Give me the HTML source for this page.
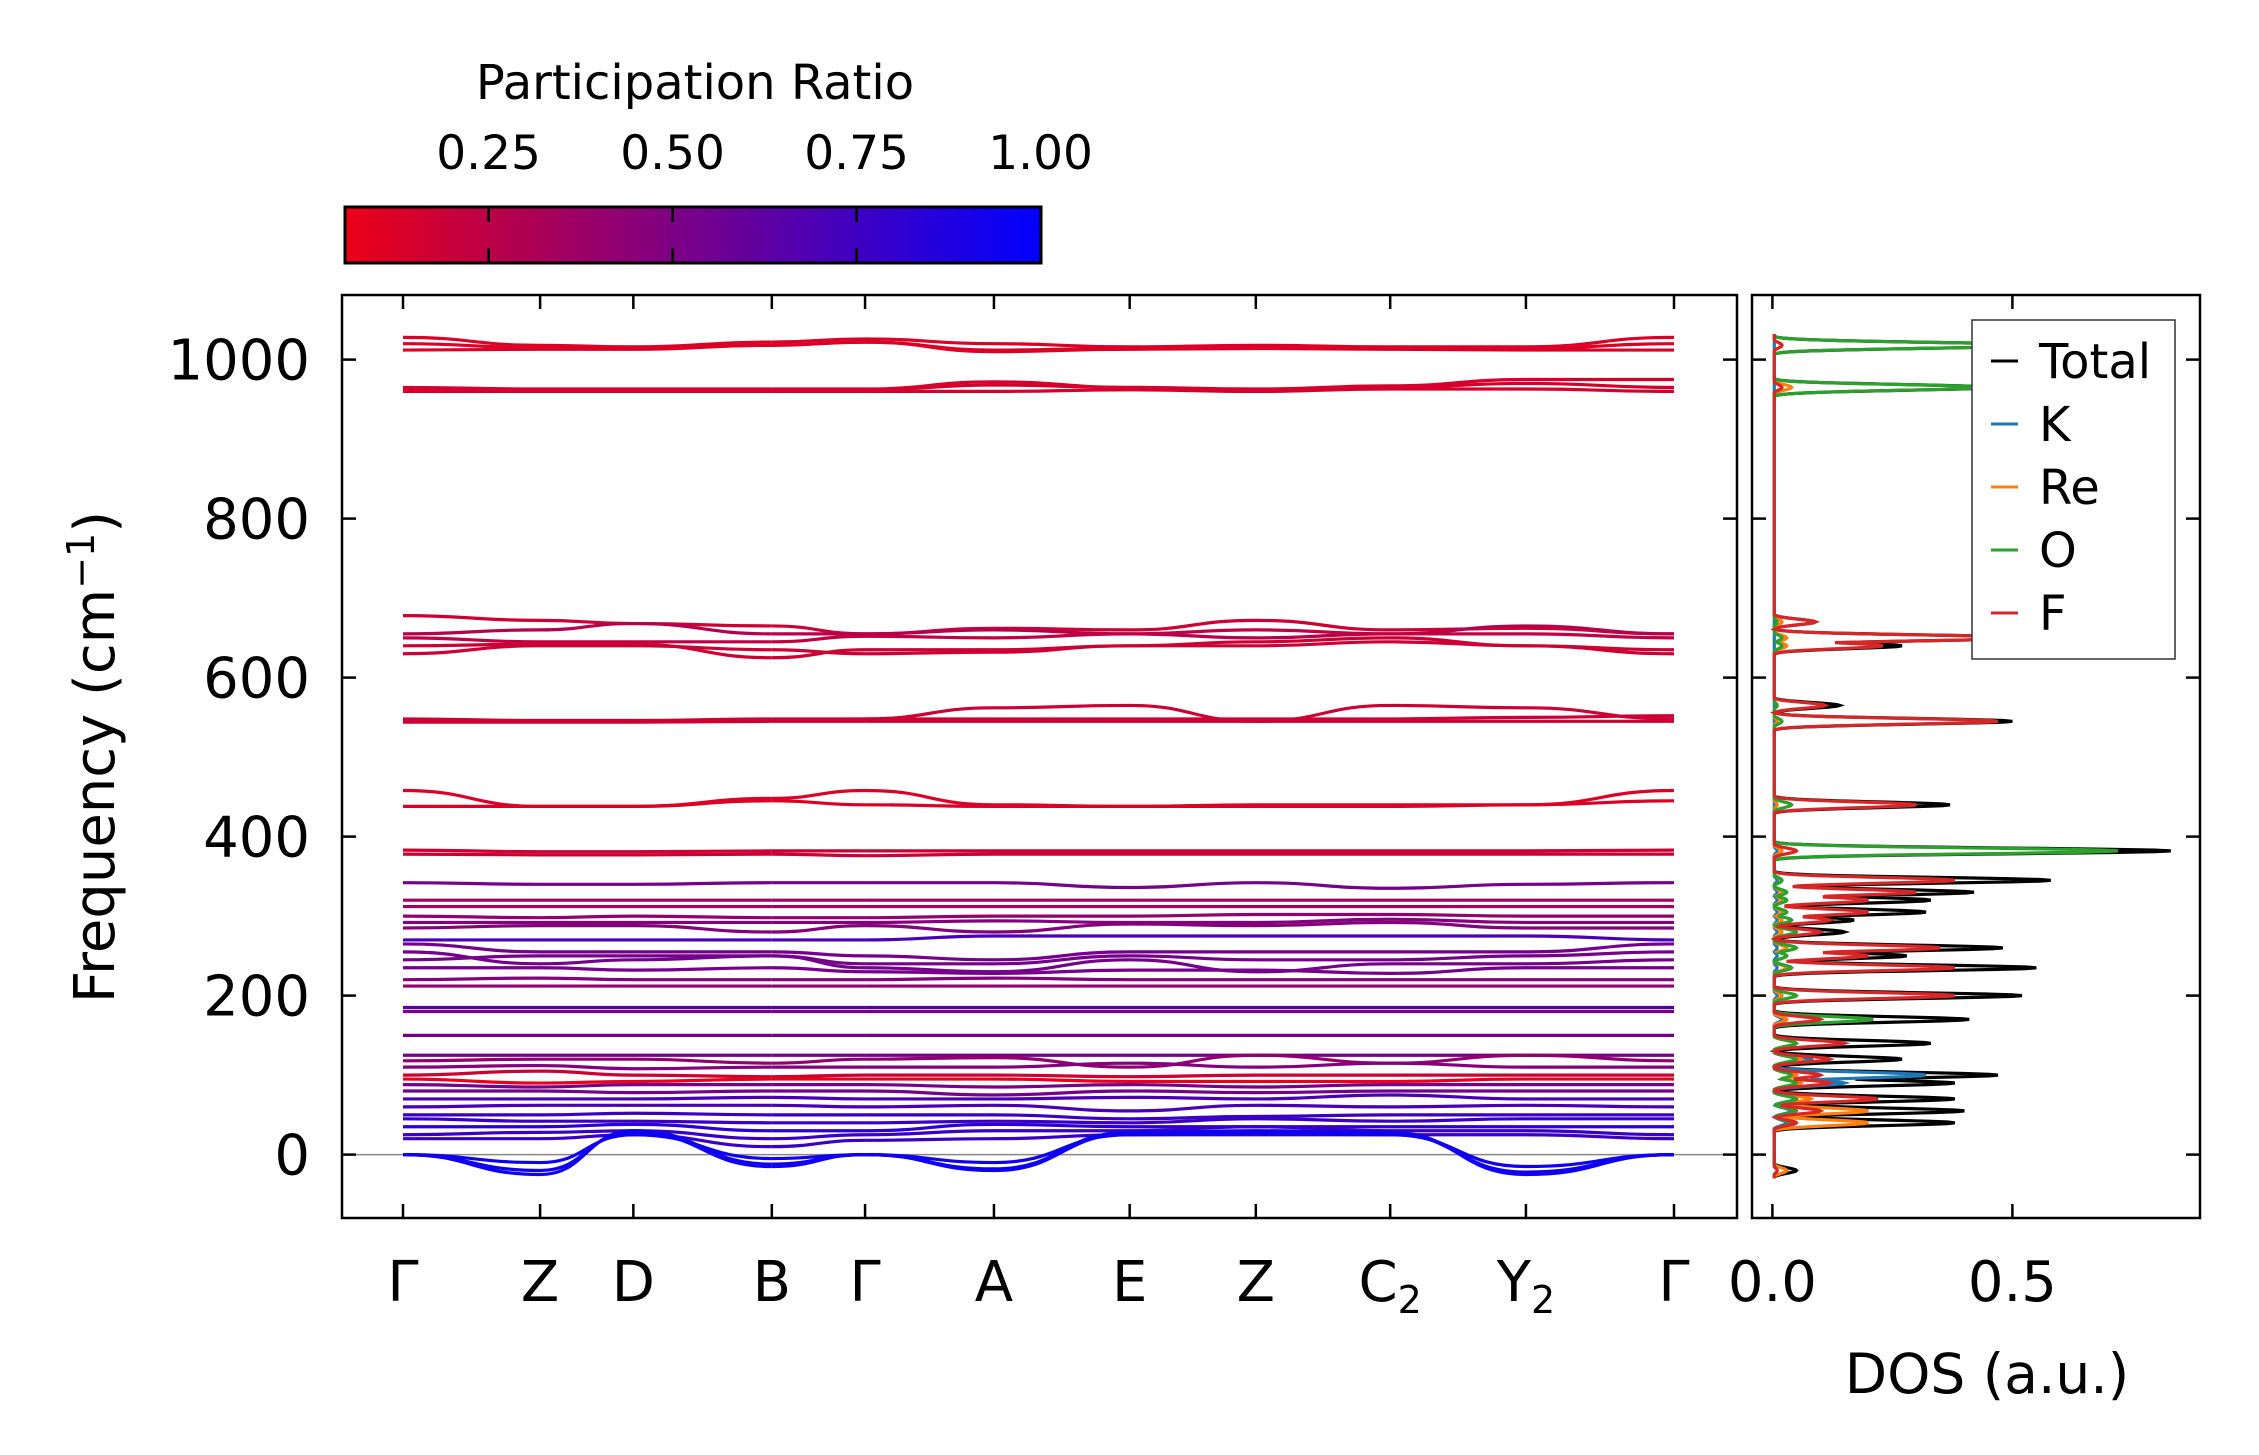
<!DOCTYPE html>
<html><head><meta charset="utf-8">
<style>
html,body{margin:0;padding:0;background:#fff;}
svg{display:block;font-family:"DejaVu Sans","Liberation Sans",sans-serif;}
</style></head>
<body>
<svg id="fig" width="2259" height="1455" viewBox="0 0 2259 1455" xmlns="http://www.w3.org/2000/svg">
<defs>
<linearGradient id="cmap" x1="0" x2="1" y1="0" y2="0">
<stop offset="0" stop-color="rgb(236,0,22)"/>
<stop offset="1" stop-color="rgb(0,0,255)"/>
</linearGradient>
<clipPath id="mainclip"><rect x="342" y="295" width="1395" height="923"/></clipPath>
<clipPath id="dosclip"><rect x="1752" y="295" width="448" height="923"/></clipPath>
</defs>
<g id="colorbar">
<text x="695" y="99" font-size="48" text-anchor="middle">Participation Ratio</text>
<rect x="345" y="207" width="696" height="56" fill="url(#cmap)" stroke="#000" stroke-width="3"/>
</g>
<g id="bands" clip-path="url(#mainclip)"></g>
<g id="dos" clip-path="url(#dosclip)"></g>
<g id="axes"></g>
<text transform="translate(114,757) rotate(-90)" font-size="56" text-anchor="middle">Frequency (cm<tspan font-size="38" dy="-20">−1</tspan><tspan dy="20">)</tspan></text>
<text x="1987" y="1393" font-size="55" text-anchor="middle">DOS (a.u.)</text>
<g id="legend">
<rect x="1972" y="320" width="203" height="339" fill="#fff" stroke="#333" stroke-width="1.5"/>
</g>
</svg>
<script>
const kLabels = ["Γ","Z","D","B","Γ","A","E","Z","C2","Y2","Γ"];
const kPos = [0,1,1.68,2.69,3.37,4.31,5.30,6.22,7.20,8.19,9.27];
const yTicks = [0,200,400,600,800,1000];
const cbTicks = [0.25,0.50,0.75,1.00];
const dosTicks = [0.0,0.5];
const bandFreqs = [
[1028,1018,1016,1022,1026,1020,1016,1018,1016,1016,1028],
[1020,1015,1014,1018,1022,1012,1014,1016,1014,1014,1020],
[1012,1013,1013,1018,1022,1010,1013,1014,1013,1012,1012],
[965,963,963,963,963,972,965,963,967,975,975],
[962,962,962,960,962,968,965,960,965,970,965],
[960,960,960,960,960,960,962,960,963,963,960],
[678,672,668,665,655,662,660,672,660,662,655],
[655,660,668,655,655,660,655,650,655,665,655],
[650,645,645,645,652,650,655,660,655,655,650],
[640,642,642,625,635,635,640,645,650,640,635],
[630,640,640,635,630,632,640,640,645,640,630],
[548,546,546,548,548,562,565,545,565,562,548],
[545,545,545,547,548,548,548,548,548,550,552],
[544,544,544,545,545,545,545,545,545,545,545],
[458,438,438,448,458,440,438,440,440,440,458],
[438,438,438,445,440,438,438,438,438,440,445],
[383,381,381,382,382,382,382,382,382,382,383],
[378,377,377,378,376,378,378,378,378,378,378],
[342,340,340,342,342,342,336,342,335,340,342],
[320,320,320,320,320,320,320,320,320,320,320],
[312,312,312,312,312,312,312,312,312,312,312],
[300,298,300,298,298,300,300,302,302,300,300],
[292,292,292,292,292,294,292,292,296,292,292],
[285,288,288,280,288,280,290,288,292,285,285],
[270,270,270,270,270,275,275,275,275,275,270],
[265,255,255,255,250,245,255,255,255,255,265],
[255,240,245,250,240,240,250,245,245,250,255],
[245,250,250,250,235,230,245,230,240,240,245],
[235,235,232,235,230,228,232,232,228,235,235],
[220,222,220,220,220,222,220,220,220,220,220],
[212,212,212,212,212,212,212,212,212,212,212],
[185,185,185,185,185,185,185,185,185,185,185],
[180,180,180,180,180,180,180,180,180,180,180],
[150,150,150,150,150,150,150,150,150,150,150],
[125,125,125,125,125,125,125,125,125,125,125],
[118,120,120,115,120,122,110,125,115,125,118],
[110,112,108,110,110,110,115,110,115,110,110],
[100,105,100,98,100,100,98,100,100,100,100],
[95,90,92,95,95,95,92,92,92,95,95],
[88,85,88,88,88,85,88,85,88,88,88],
[80,80,78,80,80,75,80,78,80,80,80],
[70,70,70,72,70,70,72,70,75,70,70],
[60,62,62,62,60,62,55,62,60,62,60],
[50,50,52,50,50,50,45,48,50,50,50],
[45,42,42,40,40,42,40,45,42,45,45],
[35,35,38,30,30,38,35,35,35,35,35],
[25,28,30,20,25,30,30,35,30,30,25],
[20,20,25,10,18,20,25,25,25,25,20],
[0,-25,30,-12,0,-18,28,30,28,-25,0],
[0,-20,28,-15,0,-20,26,28,26,-22,0],
[0,-10,25,-5,0,-10,25,26,25,-15,0]
];
const bandPR = [0.25,0.25,0.25,0.27,0.27,0.27,0.3,0.38,0.35,0.3,0.3,0.3,0.3,0.3,0.25,0.25,0.3,0.3,
0.6,0.45,0.45,0.5,0.55,0.55,0.75,0.6,0.6,0.6,0.6,0.55,0.5,0.7,0.6,0.6,0.6,0.5,0.55,0.3,0.2,0.6,0.6,0.75,0.75,0.8,0.8,0.85,0.8,0.8,0.95,0.95,0.95];
const dosFreq = [1018,965,670,650,640,565,545,440,382,345,330,320,305,295,280,260,250,235,200,170,140,120,100,90,70,55,40,-20];
const dosTotal = [0.57,0.46,0.09,0.55,0.27,0.14,0.5,0.37,0.83,0.58,0.42,0.33,0.32,0.17,0.15,0.48,0.28,0.55,0.52,0.41,0.33,0.27,0.47,0.38,0.38,0.40,0.38,0.05];
const dosK = [0,0,0,0,0,0,0,0,0.01,0.01,0.01,0.01,0.01,0.01,0.01,0.01,0.01,0.01,0.01,0.02,0.05,0.08,0.32,0.15,0.05,0.04,0.03,0.01];
const dosRe = [0.02,0.04,0.02,0.03,0.03,0.01,0.01,0.01,0.02,0.02,0.02,0.02,0.02,0.02,0.02,0.03,0.03,0.03,0.02,0.03,0.05,0.06,0.05,0.06,0.08,0.2,0.2,0.03];
const dosO = [0.56,0.45,0.01,0.02,0.02,0.01,0.02,0.04,0.72,0.02,0.03,0.03,0.03,0.04,0.05,0.05,0.03,0.04,0.05,0.21,0.05,0.05,0.04,0.05,0.05,0.05,0.04,0.01];
const dosF = [0.02,0.02,0.09,0.55,0.23,0.11,0.47,0.3,0.05,0.38,0.3,0.2,0.2,0.12,0.1,0.35,0.2,0.38,0.38,0.1,0.15,0.12,0.1,0.12,0.22,0.1,0.05,0.01];

const NS="http://www.w3.org/2000/svg";
const X0=403, X1=1674;
const kx = v => X0 + (v - kPos[0])/(kPos[10]-kPos[0])*(X1-X0);
const fy = f => 1154.6 - f*0.795;
const dx = v => 1772.4 + v*480;
const cbx = v => 488.6 + (v-0.25)/0.25*184;
function col(p){const t=Math.max(0,Math.min(1,(p-0.195)/0.805));return `rgb(${Math.round(236*(1-t))},0,${Math.round(22+233*t)})`;}
function el(tag,attrs,parent){const e=document.createElementNS(NS,tag);for(const k in attrs)e.setAttribute(k,attrs[k]);parent.appendChild(e);return e;}

const bands=document.getElementById('bands');
const axes=document.getElementById('axes');
const dosG=document.getElementById('dos');
const legend=document.getElementById('legend');
const cbG=document.getElementById('colorbar');

cbTicks.forEach(v=>{
  const x=cbx(v);
  if(v<1){
    const t=el('line',{x1:x,x2:x,y1:208,y2:222,stroke:'#000','stroke-width':2.5},cbG);
    
    
    const b=el('line',{x1:x,x2:x,y1:248,y2:262,stroke:'#000','stroke-width':2.5},cbG);
    
    
  }
  const tx=el('text',{x:x,y:169,'font-size':47,'text-anchor':'middle'},cbG);
  tx.textContent=v.toFixed(2);
  
  
});

const zl=el('line',{x1:342,x2:1737,y1:fy(0),y2:fy(0),stroke:'#888','stroke-width':1.5},bands);



function smoothPath(pts){
  let d=`M${pts[0][0]},${pts[0][1]}`;
  for(let i=0;i<pts.length-1;i++){
    const [x0,y0]=pts[i],[x1,y1]=pts[i+1];const mx=(x1-x0)/2;
    d+=` C${x0+mx},${y0} ${x1-mx},${y1} ${x1},${y1}`;
  }
  return d;
}
const segs=[[0,3],[3,4],[4,10]];
bandFreqs.forEach((fr,bi)=>{
  segs.forEach(([a,b])=>{
    const pts=[];for(let i=a;i<=b;i++)pts.push([kx(kPos[i]),fy(fr[i])]);
    const p=el('path',{d:smoothPath(pts),fill:'none',stroke:col(bandPR[bi]),'stroke-width':3.2},bands);
    
    
  });
});

function dosPath(h){
  let d='';const w=5;
  for(let f=-30;f<=1032;f+=1){
    let v=0.004;
    for(let i=0;i<dosFreq.length;i++){const z=(f-dosFreq[i])/w;v=Math.max(v,h[i]*Math.exp(-z*z));}
    d+=(d?' L':'M')+dx(v).toFixed(1)+','+fy(f).toFixed(1);
  }
  return d;
}
const dosSeries=[[dosTotal,'#000','dos-total'],[dosK,'#1f77b4','dos-k'],[dosRe,'#ff7f0e','dos-re'],[dosO,'#2ca02c','dos-o'],[dosF,'#d62728','dos-f']];
dosSeries.forEach(([h,c,n])=>{
  const p=el('path',{d:dosPath(h),fill:'none',stroke:c,'stroke-width':3.2},dosG);
  
  
});

const f1=el('rect',{x:342,y:295,width:1395,height:923,fill:'none',stroke:'#000','stroke-width':2.5},axes);


const f2=el('rect',{x:1752,y:295,width:448,height:923,fill:'none',stroke:'#000','stroke-width':2.5},axes);



yTicks.forEach(v=>{
  const y=fy(v);
  [[342,356],[1723,1737],[1752,1766],[2186,2200]].forEach(([a,b])=>{
    const t=el('line',{x1:a,x2:b,y1:y,y2:y,stroke:'#000','stroke-width':2.5},axes);
    
    
  });
  const tx=el('text',{x:310,y:y+20,'font-size':56,'text-anchor':'end'},axes);
  tx.textContent=v;
  
  
});
kPos.forEach((v,i)=>{
  const x=kx(v);
  [[295,309],[1204,1218]].forEach(([a,b])=>{
    const t=el('line',{x1:x,x2:x,y1:a,y2:b,stroke:'#000','stroke-width':2.5},axes);
    
    
  });
  const lab=kLabels[i];
  const tx=el('text',{x:x,y:1301,'font-size':56,'text-anchor':'middle'},axes);
  
  
  if(lab.length===2&&/\d/.test(lab[1])){
    tx.appendChild(document.createTextNode(lab[0]));
    const s=el('tspan',{'font-size':38,dy:12},tx);s.textContent=lab[1];
  } else tx.textContent=lab;
});
dosTicks.forEach(v=>{
  const x=dx(v);
  [[295,309],[1204,1218]].forEach(([a,b])=>{
    const t=el('line',{x1:x,x2:x,y1:a,y2:b,stroke:'#000','stroke-width':2.5},axes);
    
    
  });
  const tx=el('text',{x:x,y:1301,'font-size':56,'text-anchor':'middle'},axes);
  tx.textContent=v.toFixed(1);
  
  
});

const legNames=['Total','K','Re','O','F'];
const legCols=['#000','#1f77b4','#ff7f0e','#2ca02c','#d62728'];
legNames.forEach((n,i)=>{
  const y=361+i*63;
  const l=el('line',{x1:1991,x2:2018,y1:y,y2:y,stroke:legCols[i],'stroke-width':3},legend);
  
  
  const t=el('text',{x:2039,y:y+17,'font-size':48},legend);
  t.textContent=n;
  
  
});
</script>
</body></html>
